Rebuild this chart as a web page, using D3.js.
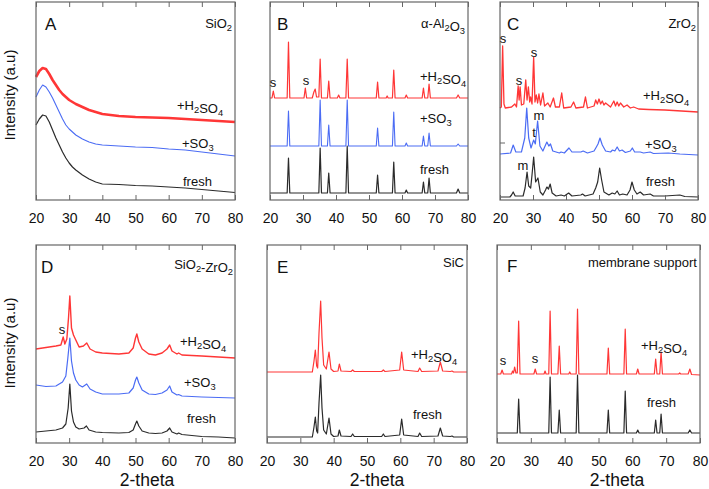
<!DOCTYPE html>
<html>
<head>
<meta charset="utf-8">
<script src="https://cdn.jsdelivr.net/npm/d3@7/dist/d3.min.js"></script>
<style>
  body { margin: 0; background: #fff; }
  svg { display: block; font-family: "Liberation Sans", Arial, sans-serif; }
</style>
</head>
<body>
<svg id="chart" width="709" height="489"></svg>
<script>
// x axis (2-theta, degrees) and intensity in arbitrary units (0..198 per panel)
const xTicks = [20, 30, 40, 50, 60, 70, 80];

// A: SiO2
const aFresh = [[20,75],[21,81],[22,85],[23,84],[24,78],[25,70],[26,62],[27,55],[28,48],[29,42],[30,37],[31,33],[32,30],[34,25],[36,21],[38,18],[40,16],[45,15.5],[50,14.5],[55,14],[60,13],[65,12],[70,10.5],[75,9],[80,7.5]];
const aSO3 = [[20,103],[21,110],[22,115],[23,113],[24,108],[25,102],[26,95],[27,88],[28,81],[29,75],[30,71],[31,68],[32,65],[34,61],[36,58],[38,56],[40,55],[45,54],[50,53],[55,52.5],[60,51],[65,50],[70,48],[75,46],[80,44]];
const aH2SO4 = [[20,123],[21,129],[22,132],[23,131],[24,126],[25,120],[26,115],[27,110],[28,106],[29,103],[30,100],[31,98],[32,96],[34,93],[36,90],[38,88],[40,86],[45,84],[50,83],[55,82.5],[60,82],[65,81],[70,80],[75,79],[80,78]];

// B: alpha-Al2O3
const bFresh = [[20,7],[25.2,7],[25.6,42],[26,7],[34.8,7],[35.2,52],[35.6,7],[37.4,7],[37.8,27],[38.2,7],[43,7],[43.4,54],[43.8,7],[52.2,7],[52.6,25],[53,7],[57.1,7],[57.5,38],[57.9,7],[60.9,7],[61.3,10],[61.7,7],[66.1,7],[66.5,18],[66.9,7],[67.8,7],[68.2,22],[68.6,7],[76.5,7],[77,11],[77.5,7],[80,7]];
const bSO3 = [[20,54],[25.2,54],[25.6,89],[26,54],[34.8,54],[35.2,100],[35.6,54],[37.4,54],[37.8,75],[38.2,54],[43,54],[43.4,100],[43.8,54],[52.2,54],[52.6,72],[53,54],[57.1,54],[57.5,88],[57.9,54],[60.9,54],[61.3,57],[61.7,54],[66.1,54],[66.5,64],[66.9,54],[67.8,54],[68.2,67],[68.6,54],[76.5,54],[77,56],[77.5,54],[80,54]];
const bH2SO4 = [[20,102],[20.6,102],[21,109],[21.4,102],[25.2,102],[25.6,158],[26,102],[30.3,102],[30.7,112],[31.1,102],[32.8,102],[33.3,108],[33.7,111],[34.1,103],[34.8,103],[35.2,141],[35.6,102],[37.4,102],[37.8,119],[38.2,102],[40.4,102],[40.8,105],[41.2,102],[43,102],[43.4,141],[43.8,102],[52.2,102],[52.6,118],[53,102],[55.2,102],[55.5,104],[55.8,102],[57.1,102],[57.5,130],[57.9,102],[60.9,102],[61.3,105],[61.7,102],[66.1,102],[66.5,112],[66.9,102],[67.8,102],[68.2,116],[68.6,102],[76.5,102],[77,105],[77.5,102],[80,102]];

// C: ZrO2
const cFresh = [[20,3],[23,3],[23.5,5],[24,8],[24.6,4],[27,4],[27.6,12],[28.2,28],[28.7,14],[29.3,12],[29.7,25],[30.2,43],[30.8,18],[31.5,22],[32.2,8],[33,5],[33.8,10],[34.2,13],[34.7,11],[35.2,16],[35.8,7],[37,4],[38.5,5],[39.5,4],[40.8,7],[41.8,4],[44.5,5],[45,6],[45.8,4],[48.2,6],[49,12],[49.6,18],[50.2,32],[50.8,20],[51.5,8],[53,5],[54,7],[54.8,6],[55.5,9],[56.2,5],[57.2,6],[58.5,5],[59.4,10],[60,18],[60.7,10],[61.5,6],[62.5,8],[63.5,5],[65.5,6],[66.5,4],[70,4],[74.5,5],[76,3.5],[80,3]];
const cSO3 = [[20,46],[23.2,47],[24,55],[24.8,48],[26.5,48],[27.5,62],[28.1,92],[28.7,62],[29.4,52],[30.2,60],[30.7,56],[31.4,79],[32.1,54],[33,49],[34.2,58],[34.8,54],[35.3,56],[36,49],[38,47],[38.5,48],[39.5,47],[40.9,52],[41.8,48],[44.5,48],[45.2,49],[46.5,47],[48.5,49],[49.2,53],[49.7,56],[50.3,62],[51,55],[52,49],[53.5,48],[54.1,50],[54.8,49],[55.5,53],[56.2,49],[57,50],[58,47.5],[59.5,49],[60.1,52],[60.8,48],[62.5,48],[63.5,47],[65.5,48],[66.5,46.5],[71,47],[74.5,46],[80,45]];
const cH2SO4 = [[20,92],[20.4,93],[20.8,154],[21.2,96],[21.6,92],[23.5,93],[24.5,96],[25,93],[25.5,114],[25.8,100],[26.1,113],[26.5,95],[27.2,96],[27.8,120],[28.2,100],[28.6,113],[29,98],[29.3,103],[29.7,96],[30.2,143],[30.6,98],[31,105],[31.4,97],[31.8,106],[32.3,95],[33,107],[33.5,94],[34.5,97],[35.2,93],[36.2,102],[36.8,93],[38,93],[38.7,107],[39.3,92],[41.5,93],[42.3,98],[43,92],[45.3,93],[45.9,103],[46.5,92],[48.5,94],[49,100],[49.5,96],[50,101],[50.5,96],[51,99],[51.5,95],[52,97],[53.5,93],[54.5,99],[55,94],[55.5,98],[56,94],[56.5,97],[57.5,93],[58.5,95],[59.5,92],[60.5,93],[62,91],[65,90.5],[70,90],[75,89],[80,88]];
const cYTicks = [57];

// D: SiO2-ZrO2
const dFresh = [[20,11],[23,12],[26,13],[28,15],[29,19],[29.7,35],[30.2,59],[30.7,32],[31.3,21],[32,16],[33,14],[34.5,15],[35.2,17],[36,13],[38,11],[40,10.5],[45,10],[48,10.5],[49.3,13],[50,19],[50.4,22],[51,17],[52,12],[54,10],[56,9.5],[58,10],[59.5,12],[60.3,15],[61,11],[62.5,9],[63,10],[64,8.5],[70,6.5],[75,6],[80,5]];
const dSO3 = [[20,58],[23,56.5],[26,57],[28,61],[29,67],[29.6,85],[30.2,105],[30.7,82],[31.3,70],[32,63],[33,58],[34,56],[35.3,59],[36.3,54],[38,51],[40,49],[45,49],[48,50],[49.3,55],[50,63],[50.4,66],[51,60],[52,53],[54,49],[56,48.5],[58,50],[59.5,53],[60.3,57],[61,51],[62.5,48],[63,48.5],[64,47],[70,46],[75,45.5],[80,45]];
const dH2SO4 = [[20,94],[22,95],[24,96],[26,97],[27.5,98],[28.2,106],[28.7,99],[29.3,104],[29.8,125],[30.2,147],[30.7,115],[31.3,108],[32,103],[33,96],[34.3,97],[35.3,100],[36.3,94],[38,91],[40,90],[45,89],[48,90],[49.3,95],[50,105],[50.4,109],[51,101],[52,94],[54,89],[56,88],[58,90],[59.5,94],[60.3,98],[61,92],[62.5,89],[63,90],[64,88],[70,87],[75,86],[80,85]];

// E: SiC
const eFresh = [[20,6],[33.6,6],[34.1,16],[34.5,26],[34.9,12],[35.2,10],[35.6,40],[36.1,68],[36.5,35],[37,13],[37.8,9],[38.6,25],[39.2,9],[40,6.5],[41.3,7],[41.7,13],[42.2,7],[45.2,6.5],[45.7,9],[46.2,6.5],[54.4,6.5],[54.9,9],[55.4,6.5],[59.8,8],[60.4,24],[61,8],[65.3,6.5],[65.8,10],[66.4,6.5],[71.3,7],[72,15],[72.7,7],[75,6.5],[75.5,7],[76,6],[80,6]];
const eH2SO4 = [[20,71],[33.6,71],[34.1,82],[34.5,93],[34.9,77],[35.2,75],[35.6,110],[36.1,142],[36.5,105],[37,78],[37.8,74],[38.6,91],[39.2,74],[40,71.5],[41.3,72],[41.7,79],[42.2,72],[45.2,71.5],[45.7,73],[46.2,71.5],[54.4,71.5],[54.9,73],[55.4,71.5],[59.8,73],[60.4,91],[61,73],[65.3,71.5],[65.8,75],[66.4,71.5],[71.3,72],[72,81],[72.7,72],[75,71.5],[75.5,72],[76,71],[80,71]];

// F: membrane support
const fFresh = [[20,10],[26,10],[26.4,44],[26.8,10],[35.3,10],[35.7,66],[36.1,10],[38,10],[38.4,33],[38.8,10],[43.4,10],[43.8,68],[44.2,10],[52.5,10],[52.9,33],[53.3,10],[57.5,10],[57.9,52],[58.3,10],[61.2,10],[61.6,13],[62,10],[66.5,10],[66.9,23],[67.3,10],[68.1,10],[68.5,29],[68.9,10],[76.5,10],[77,13],[77.5,10],[80,10]];
const fH2SO4 = [[20,69],[21.1,69],[21.5,73],[21.9,69],[24.3,69],[24.6,72],[24.9,70],[25.2,76],[25.6,70],[26,70],[26.4,122],[26.8,69],[30.9,69],[31.3,74],[31.7,69],[33.9,69],[34.2,72],[34.5,69],[35.3,69],[35.7,132],[36.1,69],[38,69],[38.4,97],[38.8,69],[41.2,69],[41.5,71],[41.8,69],[43.4,69],[43.8,134],[44.2,69],[52.5,69],[52.9,95],[53.3,69],[57.5,69],[57.9,114],[58.3,69],[61.2,69],[61.6,74],[62,69],[66.5,69],[66.9,84],[67.3,69],[68.1,69],[68.5,91],[68.9,69],[73.7,69],[74,70],[74.3,69],[76.5,69],[77,74],[77.5,68.5],[80,68]];

const RED = '#ff3636', BLUE = '#4b6cf4', BLACK = '#2b2b2b';
const svg = d3.select('#chart');

function label(g, x, y, parts, size, anchor) {
  const t = g.append('text').attr('x', x).attr('y', y)
    .attr('font-size', size).attr('fill', '#111')
    .attr('text-anchor', anchor || 'start');
  parts.forEach(p => {
    if (typeof p === 'string') t.append('tspan').text(p);
    else t.append('tspan').attr('font-size', size * 0.72).attr('dy', p.dy).text(p.t);
  });
  return t;
}
const sub = s => [{ t: s, dy: 3 }, { t: '', dy: -3 }];

function panel(box, series, texts, yTicks) {
  const x = d3.scaleLinear().domain([20, 80]).range([box.x0, box.x1]);
  const y = d3.scaleLinear().domain([0, 198]).range([box.y1, box.y0]);
  const g = svg.append('g');
  const line = d3.line().x(d => x(d[0])).y(d => y(d[1]));

  series.forEach(s => {
    g.append('path').datum(s.data)
      .attr('d', line)
      .attr('fill', 'none')
      .attr('stroke', s.color)
      .attr('stroke-width', s.width)
      .attr('stroke-linejoin', 'round');
  });

  const bottom = g.append('g').attr('transform', `translate(0,${box.y1})`)
    .call(d3.axisBottom(x).tickValues(xTicks).tickSize(-5).tickPadding(13).tickFormat(d3.format('d')));
  const top = g.append('g').attr('transform', `translate(0,${box.y0})`)
    .call(d3.axisTop(x).tickValues(xTicks).tickSize(-5).tickFormat(''));
  [bottom, top].forEach(a => {
    a.select('.domain').remove();
    a.selectAll('line').attr('stroke', '#666');
    a.selectAll('text').attr('font-size', 14).attr('fill', '#111')
      .attr('font-family', '"Liberation Sans", Arial, sans-serif');
  });
  if (yTicks) {
    g.selectAll('.ytick').data(yTicks).join('line')
      .attr('x1', box.x0).attr('x2', box.x0 + 5)
      .attr('y1', d => y(d)).attr('y2', d => y(d))
      .attr('stroke', '#666');
  }

  g.append('rect')
    .attr('x', box.x0).attr('y', box.y0)
    .attr('width', box.x1 - box.x0).attr('height', box.y1 - box.y0)
    .attr('fill', 'none').attr('stroke', '#666').attr('stroke-width', 1.2);

  texts.forEach(t => label(g, t.x, t.y, t.parts, t.size || 13, t.anchor));
}

panel({ x0: 36, x1: 235, y0: 2, y1: 200 },
  [{ data: aFresh, color: BLACK, width: 1.2 }, { data: aSO3, color: BLUE, width: 1.1 }, { data: aH2SO4, color: RED, width: 2.6 }],
  [{ x: 45, y: 30, parts: ['A'], size: 17 },
   { x: 232, y: 28, parts: ['SiO', ...sub('2')], anchor: 'end' },
   { x: 177, y: 110, parts: ['+H', ...sub('2'), 'SO', ...sub('4')] },
   { x: 182, y: 148, parts: ['+SO', ...sub('3')] },
   { x: 183, y: 186, parts: ['fresh'] }]);

panel({ x0: 270, x1: 468, y0: 2, y1: 200 },
  [{ data: bFresh, color: BLACK, width: 1.2 }, { data: bSO3, color: BLUE, width: 1.1 }, { data: bH2SO4, color: RED, width: 1.2 }],
  [{ x: 277, y: 30, parts: ['B'], size: 17 },
   { x: 465, y: 28, parts: ['α-Al', ...sub('2'), 'O', ...sub('3')], anchor: 'end' },
   { x: 420, y: 81, parts: ['+H', ...sub('2'), 'SO', ...sub('4')] },
   { x: 420, y: 123, parts: ['+SO', ...sub('3')] },
   { x: 420, y: 174, parts: ['fresh'] },
   { x: 273, y: 87, parts: ['s'], anchor: 'middle' },
   { x: 306, y: 85, parts: ['s'], anchor: 'middle' }]);

panel({ x0: 500, x1: 698, y0: 2, y1: 200 },
  [{ data: cFresh, color: BLACK, width: 1.2 }, { data: cSO3, color: BLUE, width: 1.2 }, { data: cH2SO4, color: RED, width: 1.3 }],
  [{ x: 507, y: 30, parts: ['C'], size: 17 },
   { x: 696, y: 28, parts: ['ZrO', ...sub('2')], anchor: 'end' },
   { x: 643, y: 100, parts: ['+H', ...sub('2'), 'SO', ...sub('4')] },
   { x: 645, y: 149, parts: ['+SO', ...sub('3')] },
   { x: 646, y: 186, parts: ['fresh'] },
   { x: 503, y: 43, parts: ['s'], anchor: 'middle' },
   { x: 519, y: 85, parts: ['s'], anchor: 'middle' },
   { x: 534, y: 57, parts: ['s'], anchor: 'middle' },
   { x: 539, y: 120, parts: ['m'], anchor: 'middle' },
   { x: 534, y: 137, parts: ['t'], anchor: 'middle' },
   { x: 523, y: 170, parts: ['m'], anchor: 'middle' }],
  cYTicks);

panel({ x0: 36, x1: 235, y0: 245, y1: 443 },
  [{ data: dFresh, color: BLACK, width: 1.2 }, { data: dSO3, color: BLUE, width: 1.2 }, { data: dH2SO4, color: RED, width: 1.4 }],
  [{ x: 41, y: 273, parts: ['D'], size: 17 },
   { x: 233, y: 268.5, parts: ['SiO', ...sub('2'), '-ZrO', ...sub('2')], anchor: 'end' },
   { x: 180, y: 346, parts: ['+H', ...sub('2'), 'SO', ...sub('4')] },
   { x: 184, y: 387, parts: ['+SO', ...sub('3')] },
   { x: 187, y: 423, parts: ['fresh'] },
   { x: 62, y: 334, parts: ['s'], anchor: 'middle' }]);

panel({ x0: 267, x1: 467, y0: 245, y1: 443 },
  [{ data: eFresh, color: BLACK, width: 1.2 }, { data: eH2SO4, color: RED, width: 1.2 }],
  [{ x: 277, y: 273, parts: ['E'], size: 17 },
   { x: 464, y: 267, parts: ['SiC'], anchor: 'end' },
   { x: 411, y: 359, parts: ['+H', ...sub('2'), 'SO', ...sub('4')] },
   { x: 413, y: 419, parts: ['fresh'] }]);

panel({ x0: 497, x1: 700, y0: 245, y1: 443 },
  [{ data: fFresh, color: BLACK, width: 1.2 }, { data: fH2SO4, color: RED, width: 1.2 }],
  [{ x: 507, y: 272, parts: ['F'], size: 17 },
   { x: 697, y: 267, parts: ['membrane support'], anchor: 'end' },
   { x: 641, y: 350, parts: ['+H', ...sub('2'), 'SO', ...sub('4')] },
   { x: 647, y: 407, parts: ['fresh'] },
   { x: 503, y: 365, parts: ['s'], anchor: 'middle' },
   { x: 535, y: 363, parts: ['s'], anchor: 'middle' }]);

// axis titles
[95, 343].forEach(cy => {
  svg.append('text').attr('transform', `translate(15,${cy}) rotate(-90)`)
    .attr('text-anchor', 'middle').attr('font-size', 15).attr('fill', '#111')
    .text('Intensity (a.u)');
});
[147, 377, 617].forEach(cx => {
  svg.append('text').attr('x', cx).attr('y', 486)
    .attr('text-anchor', 'middle').attr('font-size', 17.5).attr('fill', '#111')
    .text('2-theta');
});
</script>
</body>
</html>
